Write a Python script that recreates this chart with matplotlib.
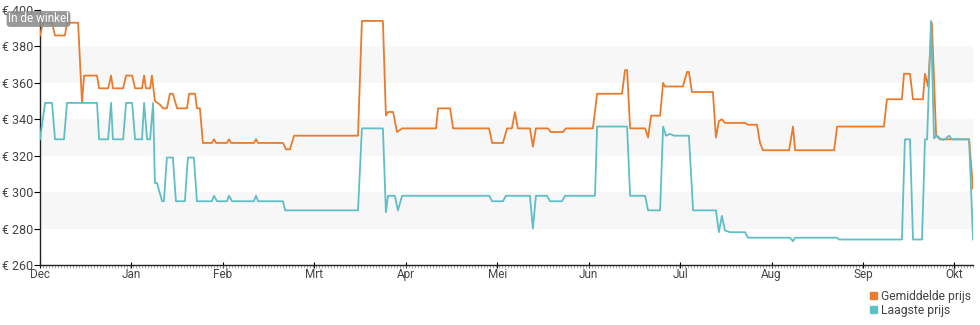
import matplotlib
matplotlib.use("Agg")
import matplotlib.pyplot as plt
from matplotlib.patches import Patch

plt.rcParams['font.family'] = ['Roboto', 'DejaVu Sans']

# x = days since 1 Dec, y = price in euro
avg_days = [0, 1, 4, 5, 8.3, 9, 12.7, 14, 14.7, 19, 19.7, 22.7, 23.7, 24.3, 27.7, 28.7,
            30.7, 31.7, 34, 34.7, 35.3, 36.7, 37.3, 38.3, 40, 41, 42.3, 43.3, 44.3, 45.7,
            49, 49.7, 51.7, 52.3, 53.3, 54.3, 57.3, 58, 58.7, 62.3, 63, 63.7, 71.3, 72,
            72.7, 81, 82, 83.3, 84.7, 106, 107.3, 114.3, 115.3, 116, 117.7, 119, 120.7,
            132, 132.7, 136.7, 137.7, 149.7, 150.7, 154.3, 155.7, 157.3, 158.3, 159.3,
            163.3, 164.3, 165.3, 169.3, 170.3, 174.3, 175.3, 184.3, 185.7, 194, 195,
            195.7, 196.7, 201.7, 202.7, 203.7, 206.7, 207.7, 208.3, 214.3, 215.7, 216.3,
            217.3, 224.3, 225.3, 226.3, 227.3, 228.3, 235, 236, 239, 240, 241, 249.7,
            251, 251.7, 264.7, 265.7, 281.3, 282.3, 287.3, 288, 290, 291, 294.3, 295,
            296, 297.3, 298.7, 300, 309.7, 311]
avg_price = [386, 393, 393, 386, 386, 393, 393, 349, 364, 364, 357, 357, 364, 357, 357, 364,
             364, 357, 357, 364, 357, 357, 364, 350, 348, 346, 346, 354, 354, 346,
             346, 354, 354, 346, 346, 327, 327, 329, 327, 327, 329, 327, 327, 329,
             327, 327, 323.5, 323.5, 331, 331, 394, 394, 342, 344, 344, 333, 335,
             335, 346, 346, 335, 335, 327, 327, 335, 335, 344, 335,
             335, 325, 335, 335, 333, 333, 335, 335, 354, 354, 367,
             367, 335, 335, 330, 342, 342, 360, 358, 358, 366, 366,
             355, 355, 330, 339, 340, 338, 338, 337, 337, 327, 323, 323,
             336, 323, 323, 336, 336, 351, 351, 365, 365, 351, 351, 365,
             358, 393, 331, 329, 329, 302]

low_days = [0, 1.7, 4, 5, 8, 9, 19, 19.7, 22.7, 23.7, 24.3, 27.7, 28.7, 30.7, 31.7, 34,
            34.7, 35.7, 36.7, 37.7, 38.3, 39, 40.7, 41.3, 42.3, 44.3, 45.3, 48.3, 49.3,
            51.3, 52.3, 57.3, 58, 59, 62.3, 63, 64, 71.3, 72, 72.7, 81, 81.7, 106, 107.3,
            114.3, 115.3, 116, 118.3, 119.3, 120.7, 149.7, 150.7, 154.3, 155.3, 163.3,
            164.3, 165.3, 169, 170, 174, 175, 185, 185.7, 195.7, 196.7, 201.7, 202.7,
            206.7, 207.7, 208.7, 210, 211.3, 216.3, 217.7, 225.3, 226.3, 227.3, 228.3,
            230, 235, 236, 250, 251, 251.7, 265.7, 266.3, 287.3, 288.3, 290, 291, 294,
            295, 295.7, 297, 298, 299, 300, 301, 302, 303, 304, 309.7, 311]
low_price = [329, 349, 349, 329, 329, 349, 349, 329, 329, 349, 329, 329, 349, 349, 329, 329,
             349, 329, 329, 349, 305, 305, 295, 295, 319, 319, 295, 295, 319,
             319, 295, 295, 298, 295, 295, 298, 295, 295, 298, 295, 295, 290, 290, 335,
             335, 289, 298, 298, 290, 298, 298, 295, 295, 298, 298,
             280, 298, 298, 295, 295, 298, 298, 336, 336, 298, 298, 290,
             290, 336, 331, 332, 331, 331, 290, 290, 278, 287, 279,
             278, 278, 275, 275, 273, 275, 275, 274, 274, 329, 329, 274, 274,
             329, 329, 394, 329.5, 331, 329.5, 328.6, 329.5, 331, 329, 329, 274]

month_labels = ['Dec', 'Jan', 'Feb', 'Mrt', 'Apr', 'Mei', 'Jun', 'Jul', 'Aug', 'Sep', 'Okt']
y_ticks = [260, 280, 300, 320, 340, 360, 380, 400]

orange = '#EA7B2C'
teal = '#5EBFC6'
text_col = '#444444'

fig = plt.figure(figsize=(9.8, 3.25), dpi=100)
ax = fig.add_axes([40 / 980, 1 - 265 / 325, 933 / 980, 255 / 325])

# alternating grey bands
for lo in [280, 320, 360]:
    ax.axhspan(lo, lo + 20, color='#f7f7f7', zorder=0, lw=0)

ax.plot(avg_days, avg_price, color=orange, lw=1.3, zorder=3)
ax.plot(low_days, low_price, color=teal, lw=1.3, zorder=4)

ax.set_xlim(0, 311)
ax.set_ylim(260, 400)

ax.set_xticks([i * 30.48 for i in range(len(month_labels))])
ax.set_xticklabels(month_labels, fontsize=8.5, color=text_col)
ax.set_xticks(range(0, 312), minor=True)
ax.tick_params(axis='x', which='major', direction='inout', length=5, width=0.8, pad=0)
ax.tick_params(axis='x', which='minor', direction='out', length=2, width=0.5, color='#888888')

ax.set_yticks(y_ticks)
ax.set_yticklabels(['€ %d' % v for v in y_ticks], fontsize=9, color=text_col)
ax.tick_params(axis='y', direction='out', length=4, width=0.8, pad=1)

for s in ['top', 'right']:
    ax.spines[s].set_visible(False)
for s in ['left', 'bottom']:
    ax.spines[s].set_linewidth(1.0)
    ax.spines[s].set_color('#222222')

fig.text(8 / 980, 1 - 19 / 325, 'In de winkel', fontsize=8.5, color='white', va='center', ha='left',
         bbox=dict(boxstyle='round,pad=0.12,rounding_size=0.3', fc='#8e8e8e', ec='none', alpha=0.9),
         zorder=10)

handles = [Patch(color=orange, label='Gemiddelde prijs'), Patch(color=teal, label='Laagste prijs')]
fig.legend(handles=handles, loc='lower right', bbox_to_anchor=(979 / 980, 0.0), frameon=False,
           fontsize=8.7, handlelength=0.55, handleheight=0.55, handletextpad=0.3,
           labelspacing=0.05, borderpad=0.2, labelcolor=text_col)

fig.savefig('out.png', dpi=100)
